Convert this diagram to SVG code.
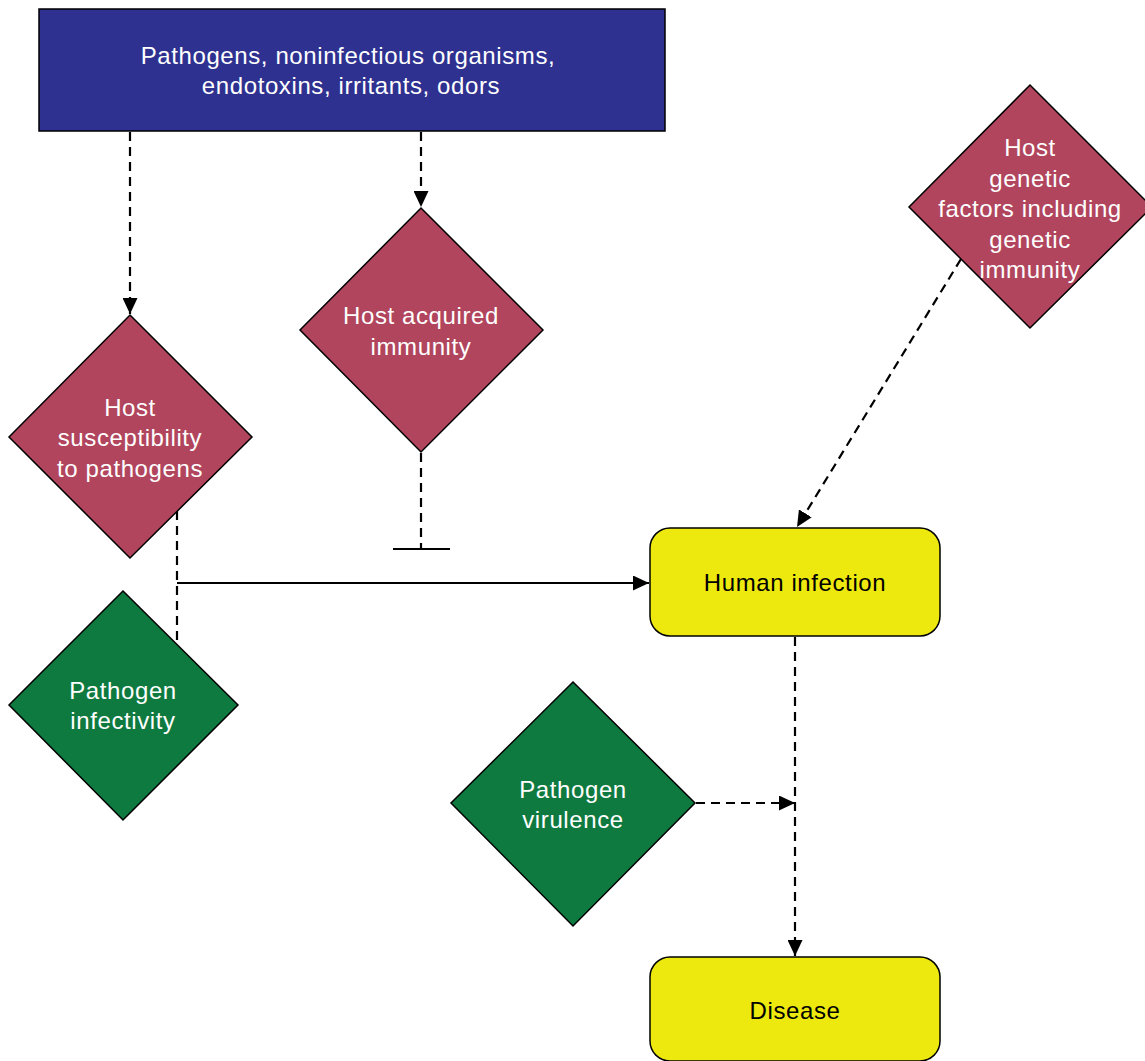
<svg xmlns="http://www.w3.org/2000/svg" width="1145" height="1061" viewBox="0 0 1145 1061">
<style>
.t{font-family:"Liberation Sans",Arial,sans-serif;font-size:24px;letter-spacing:0.6px;text-anchor:middle}
.w{fill:#ffffff}
.k{fill:#000000}
.sh{stroke:#000;stroke-width:1.5}
.blue{fill:#2E3190}
.red{fill:#B1455D}
.green{fill:#0F7A3F}
.yel{fill:#EDE90F}
.c{fill:none;stroke:#000;stroke-width:2.2}
.d{stroke-dasharray:9,6}
</style>
<defs>
<marker id="ah" viewBox="0 0 10 10" refX="10" refY="5" markerWidth="16" markerHeight="15" markerUnits="userSpaceOnUse" orient="auto" preserveAspectRatio="none">
<path d="M0,0 L10,5 L0,10 z" fill="#000"/>
</marker>
</defs>
<rect width="1145" height="1061" fill="#ffffff"/>
<g id="connectors">
<path class="c d" d="M130,132 V314" marker-end="url(#ah)"/>
<path class="c d" d="M421,132 V207" marker-end="url(#ah)"/>
<path class="c d" d="M421,453 V549"/>
<path class="c" d="M393,549 H450"/>
<path class="c d" d="M177,511 V645"/>
<path class="c" d="M177,583 H649" marker-end="url(#ah)"/>
<path class="c d" d="M795,637 V956" marker-end="url(#ah)"/>
<path class="c d" d="M696,803 H795" marker-end="url(#ah)"/>
<path class="c d" d="M961,259 L797,527" marker-end="url(#ah)"/>
</g>
<g id="sources">
<rect class="blue sh" x="39" y="9" width="626" height="122"/>
<text class="t w" x="348" y="64">Pathogens, noninfectious organisms,</text>
<text class="t w" x="351" y="94">endotoxins, irritants, odors</text>
</g>
<g id="host-acquired-immunity">
<path class="red sh" d="M421,208 L543,330 L421,452 L300,330 z"/>
<text class="t w" x="421" y="324">Host acquired</text>
<text class="t w" x="421" y="355">immunity</text>
</g>
<g id="host-susceptibility">
<path class="red sh" d="M130,315 L252,437 L130,558 L9,437 z"/>
<text class="t w" x="130" y="416">Host</text>
<text class="t w" x="130" y="446">susceptibility</text>
<text class="t w" x="130" y="477">to pathogens</text>
</g>
<g id="host-genetic-factors">
<path class="red sh" d="M1030,85 L1152,207 L1030,328 L909,207 z"/>
<text class="t w" x="1030" y="156">Host</text>
<text class="t w" x="1030" y="187">genetic</text>
<text class="t w" x="1030" y="217">factors including</text>
<text class="t w" x="1030" y="248">genetic</text>
<text class="t w" x="1030" y="278">immunity</text>
</g>
<g id="pathogen-infectivity">
<path class="green sh" d="M123,591 L238,705 L123,820 L9,705 z"/>
<text class="t w" x="123" y="699">Pathogen</text>
<text class="t w" x="123" y="729">infectivity</text>
</g>
<g id="pathogen-virulence">
<path class="green sh" d="M573,682 L695,803 L573,926 L451,803 z"/>
<text class="t w" x="573" y="798">Pathogen</text>
<text class="t w" x="573" y="828">virulence</text>
</g>
<g id="human-infection">
<rect class="yel sh" x="650" y="528" width="290" height="108" rx="20" ry="20"/>
<text class="t k" x="795" y="591">Human infection</text>
</g>
<g id="disease">
<rect class="yel sh" x="650" y="957" width="290" height="104" rx="20" ry="20"/>
<text class="t k" x="795" y="1019">Disease</text>
</g>
</svg>
